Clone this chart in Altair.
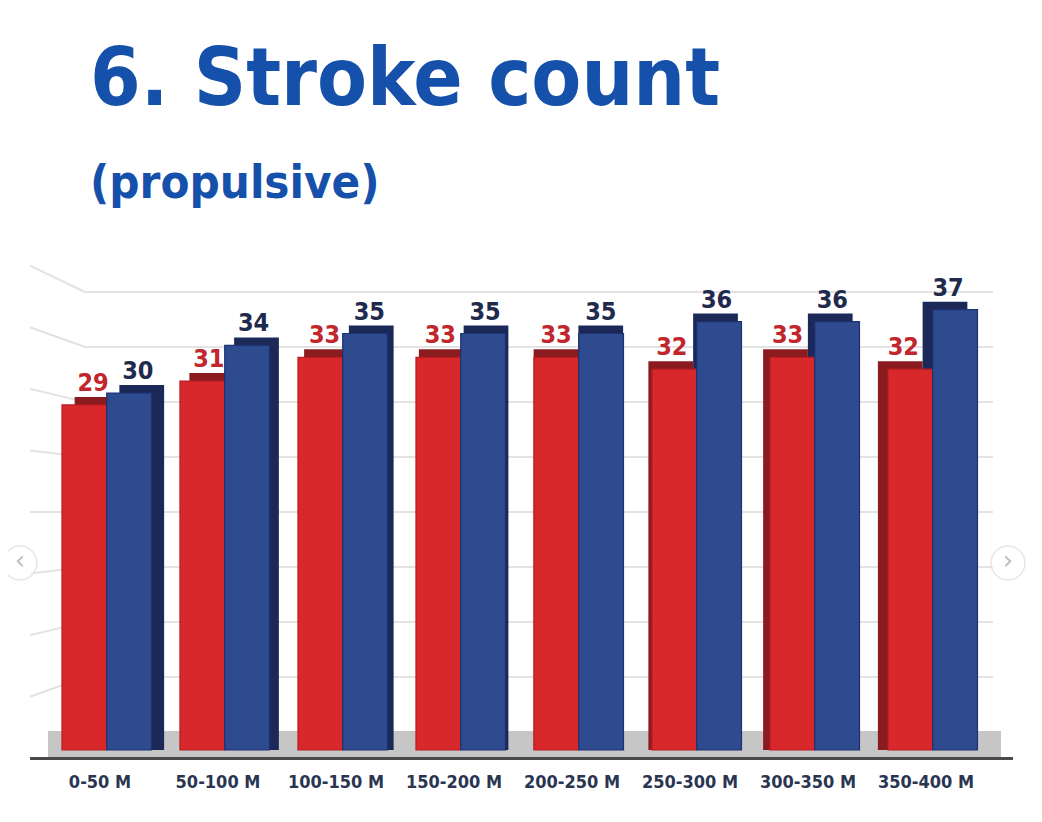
import altair as alt
import pandas as pd

# ---- data -------------------------------------------------------------
categories = ["0-50 M", "50-100 M", "100-150 M", "150-200 M",
              "200-250 M", "250-300 M", "300-350 M", "350-400 M"]
series_names = ["Series 1", "Series 2"]
red_values = [29, 31, 33, 33, 33, 32, 33, 32]
blue_values = [30, 34, 35, 35, 35, 36, 36, 37]
grid_values = [5, 10, 15, 20, 25, 30, 35, 40]
title_text = ["6. Stroke count"]
subtitle_text = ["(propulsive)"]
nav_glyphs = ["‹", "›"]

rows = []
for c, r, b in zip(categories, red_values, blue_values):
    rows.append({"cat": c, "series": series_names[0], "value": r})
    rows.append({"cat": c, "series": series_names[1], "value": b})
df = pd.DataFrame(rows)
grid_df = pd.DataFrame({"v": grid_values})
cat_df = pd.DataFrame({"cat": categories})

FONT = "DejaVu Sans Condensed, DejaVu Sans, sans-serif"
W, H = 1020, 800

xscale = alt.Scale(domain=categories, range=[41, 985], paddingInner=0.22, paddingOuter=0.11)
xscale_back = alt.Scale(domain=categories, range=[54, 972], paddingInner=0.22, paddingOuter=0.11)
xscale_label = alt.Scale(domain=categories, range=[50, 976], paddingInner=0.22, paddingOuter=0.11)
offscale = alt.Scale(domain=series_names, paddingInner=0.0)
bar_y = alt.Scale(domain=[-4.874, 62.353], nice=False, zero=False)
grid_y = alt.Scale(domain=[-6.909, 65.818], nice=False, zero=False)
nav_x = alt.Scale(type="point", domain=nav_glyphs, range=[12, 1000], padding=0)

X = alt.X("cat:N", scale=xscale, axis=None, sort=categories)
XO = alt.XOffset("series:N", scale=offscale, sort=series_names)

# ---- back-wall grid ---------------------------------------------------
grid_h = alt.Chart(grid_df).mark_rule(color="#e3e3e3", strokeWidth=2).encode(
    x=alt.value(77), x2=alt.value(985),
    y=alt.Y("v:Q", scale=grid_y, axis=None),
)
grid_d = alt.Chart(grid_df).transform_calculate(
    vl="20 + (datum.v - 20) * 1.12"
).mark_rule(color="#e3e3e3", strokeWidth=2).encode(
    x=alt.value(22), x2=alt.value(77),
    y=alt.Y("vl:Q", scale=grid_y, axis=None),
    y2="v:Q",
)

# ---- floor ------------------------------------------------------------
floor = alt.Chart(cat_df.head(1)).mark_rect(color="#c6c6c6").encode(
    x=alt.value(40), x2=alt.value(993), y=alt.value(723), y2=alt.value(749)
)
floor_edge = alt.Chart(cat_df.head(1)).mark_rect(color="#4a4a4a").encode(
    x=alt.value(22), x2=alt.value(1005), y=alt.value(749), y2=alt.value(752)
)

# ---- 3D bars ----------------------------------------------------------
shadow = alt.Chart(df).mark_bar(yOffset=-8).encode(
    x=alt.X("cat:N", scale=xscale_back, axis=None, sort=categories), xOffset=XO,
    y=alt.Y("value:Q", scale=bar_y, axis=None), y2=alt.datum(0),
    color=alt.Color("series:N", scale=alt.Scale(domain=series_names,
                    range=["#8a1c1f", "#1b2858"]), legend=None),
)
front = alt.Chart(df).mark_bar(strokeWidth=1.2).encode(
    x=X, xOffset=XO,
    y=alt.Y("value:Q", scale=bar_y, axis=None), y2=alt.datum(0),
    fill=alt.Fill("series:N", scale=alt.Scale(domain=series_names,
                  range=["#d9282c", "#2e4b8f"]), legend=None),
    stroke=alt.Stroke("series:N", scale=alt.Scale(domain=series_names,
                      range=["#b81c20", "#1d3170"]), legend=None),
)
value_labels = alt.Chart(df).mark_text(
    font=FONT, fontSize=25, fontWeight="bold", baseline="alphabetic", dy=-14
).encode(
    x=alt.X("cat:N", scale=xscale_label, axis=None, sort=categories), xOffset=XO,
    y=alt.Y("value:Q", scale=bar_y, axis=None),
    text="value:Q",
    color=alt.Color("series:N", scale=alt.Scale(domain=series_names,
                    range=["#c0262c", "#1f2a4c"]), legend=None),
)

cat_labels = alt.Chart(cat_df).mark_text(
    font=FONT, fontSize=18, fontWeight="bold", color="#2a3552", baseline="middle", dx=-8
).encode(
    x=X, y=alt.value(775), text="cat:N"
)

# ---- carousel arrows ----------------------------------------------------
nav_df = pd.DataFrame({"g": nav_glyphs})
nav_circles = alt.Chart(nav_df).mark_point(
    shape="circle", size=1150, filled=True, fill="white", stroke="#dddddd", strokeWidth=1.5
).encode(
    x=alt.X("g:N", scale=nav_x, axis=None),
    y=alt.value(555),
)
nav_text = alt.Chart(nav_df).mark_text(
    font="DejaVu Sans", fontSize=26, color="#bdbdbd", baseline="middle", dy=-2
).encode(
    x=alt.X("g:N", scale=nav_x, axis=None),
    y=alt.value(555), text="g:N",
)

# ---- titles -----------------------------------------------------------
title = alt.Chart(pd.DataFrame({"t": title_text})).mark_text(
    font=FONT, fontSize=81, fontWeight="bold", color="#1551aa",
    align="left", baseline="alphabetic"
).encode(x=alt.value(82), y=alt.value(97), text="t:N")
subtitle = alt.Chart(pd.DataFrame({"t": subtitle_text})).mark_text(
    font=FONT, fontSize=47, fontWeight="bold", color="#1551aa",
    align="left", baseline="alphabetic"
).encode(x=alt.value(82), y=alt.value(190), text="t:N")

chart = alt.layer(
    grid_h, grid_d, floor, floor_edge, shadow, front, value_labels, cat_labels,
    nav_circles, nav_text, title, subtitle
).resolve_scale(
    x="independent", y="independent", color="independent"
).properties(
    width=W, height=H, padding=0, autosize=alt.AutoSizeParams(type="none"),
    view=alt.ViewBackground(stroke="transparent", strokeWidth=0),
).configure_view(strokeWidth=0, stroke="transparent").configure(background="white")

chart.save("out.html", embed_options={"renderer": "svg", "actions": False})
